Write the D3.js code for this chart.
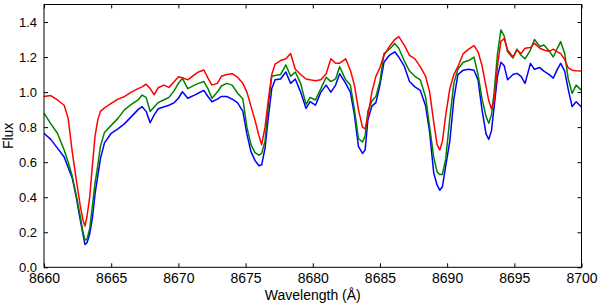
<!DOCTYPE html>
<html>
<head>
<meta charset="utf-8">
<script src="https://cdn.jsdelivr.net/npm/d3@7"></script>
<style>
  body { margin: 0; background: #fff; }
  .axis text { font-family: "Liberation Sans", Arial, sans-serif; font-size: 13px; fill: #000; }
  .x-axis text { font-size: 14px; }
  .axis line { stroke: #000; }
</style>
</head>
<body>
<div id="chart"></div>
<script>
(function() {
  var margin = { top: 4.5, left: 44, right: 18.5, bottom: 40.7 },
    width = 600 - margin.left - margin.right,
    height = 308 - margin.top - margin.bottom;

  // wavelength grid (Angstrom) shared by the three spectra
  var wavelength = [8660, 8660.5, 8661, 8661.5, 8661.8, 8662.1, 8662.4, 8662.7, 8662.9, 8663.05,
    8663.2, 8663.4, 8663.6, 8663.8, 8664.0, 8664.2, 8664.5, 8665, 8665.5, 8666,
    8666.5, 8667, 8667.3, 8667.6, 8667.9, 8668.2, 8668.5, 8668.9, 8669.3, 8669.7,
    8670.0, 8670.3, 8670.7, 8671.2, 8671.5, 8671.9, 8672.2, 8672.5, 8672.9, 8673.2,
    8673.6, 8674.0, 8674.4, 8674.8, 8675.1, 8675.4, 8675.7, 8676.0, 8676.2, 8676.45,
    8676.7, 8676.95, 8677.2, 8677.6, 8678.0, 8678.35, 8678.7, 8679.1, 8679.5, 8679.8,
    8680.2, 8680.6, 8681.0, 8681.35, 8681.7, 8682.0, 8682.45, 8682.8, 8683.1, 8683.4,
    8683.7, 8683.9, 8684.1, 8684.4, 8684.7, 8685.0, 8685.3, 8685.7, 8686.1, 8686.4,
    8686.8, 8687.2, 8687.6, 8688.0, 8688.4, 8688.7, 8689.0, 8689.25, 8689.45, 8689.65,
    8689.9, 8690.2, 8690.5, 8690.8, 8691.2, 8691.6, 8692.0, 8692.3, 8692.6, 8692.9,
    8693.1, 8693.3, 8693.5, 8693.75, 8694.0, 8694.25, 8694.5, 8694.9, 8695.2, 8695.5,
    8695.8, 8696.2, 8696.5, 8696.9, 8697.2, 8697.6, 8697.9, 8698.2, 8698.45, 8698.75,
    8699.0, 8699.3, 8699.6, 8700];

  var flux_blue = [0.765, 0.73, 0.68, 0.63, 0.57, 0.51, 0.40, 0.27, 0.19, 0.13,
    0.14, 0.19, 0.28, 0.42, 0.52, 0.62, 0.71, 0.765, 0.79, 0.82,
    0.86, 0.90, 0.917, 0.89, 0.825, 0.87, 0.905, 0.915, 0.925, 0.94,
    0.965, 1.002, 0.965, 0.983, 0.995, 1.01, 0.975, 0.945, 0.96, 0.975,
    0.975, 0.96, 0.94, 0.89, 0.76, 0.66, 0.61, 0.58, 0.585, 0.68,
    0.86, 1.02, 1.07, 1.075, 1.115, 1.05, 1.075, 1.0, 0.907, 0.945,
    0.925, 1.0, 1.04, 1.0, 1.04, 1.105, 1.05, 1.0, 0.87, 0.69,
    0.65, 0.67, 0.84, 0.92, 0.94, 1.04, 1.17, 1.21, 1.23, 1.20,
    1.15, 1.06, 1.03, 1.01, 0.92, 0.77, 0.54, 0.47, 0.44, 0.46,
    0.58, 0.72, 0.96, 1.10, 1.125, 1.13, 1.125, 1.07, 0.897, 0.76,
    0.73, 0.78, 0.917, 1.09, 1.17, 1.15, 1.07, 1.10, 1.107, 1.09,
    1.05, 1.164, 1.13, 1.14, 1.12, 1.10, 1.08, 1.13, 1.164, 1.12,
    1.02, 0.917, 0.945, 0.915];

  var flux_green = [0.88, 0.82, 0.765, 0.67, 0.60, 0.52, 0.41, 0.29, 0.20, 0.155,
    0.16, 0.22, 0.35, 0.48, 0.58, 0.69, 0.77, 0.81, 0.85, 0.90,
    0.93, 0.955, 0.983, 0.97, 0.89, 0.915, 0.94, 0.955, 0.97, 1.01,
    1.05, 1.078, 1.02, 1.04, 1.05, 1.06, 1.02, 0.965, 1.0, 1.035,
    1.05, 1.04, 0.995, 0.96, 0.80, 0.70, 0.655, 0.64, 0.65, 0.72,
    0.93, 1.09, 1.095, 1.10, 1.155, 1.09, 1.115, 1.05, 0.93, 0.97,
    0.955, 1.02, 1.085, 1.06, 1.075, 1.145, 1.07, 1.04, 0.90, 0.735,
    0.715, 0.75, 0.89, 0.95, 0.975, 1.06, 1.22, 1.245, 1.278, 1.25,
    1.18, 1.12, 1.09, 1.07, 0.97, 0.80, 0.63, 0.545, 0.53, 0.53,
    0.62, 0.85, 1.05, 1.13, 1.17, 1.18, 1.20, 1.10, 0.96, 0.86,
    0.822, 0.87, 1.0, 1.22, 1.355, 1.32, 1.23, 1.195, 1.245, 1.21,
    1.19, 1.24, 1.30, 1.26, 1.269, 1.235, 1.20, 1.25, 1.288, 1.22,
    1.08, 0.993, 1.04, 1.01];

  var flux_red = [0.975, 0.98, 0.955, 0.925, 0.85, 0.66, 0.50, 0.35, 0.27, 0.235,
    0.29, 0.40, 0.58, 0.75, 0.84, 0.89, 0.91, 0.935, 0.96, 0.975,
    1.00, 1.02, 1.03, 1.045, 1.02, 0.985, 1.025, 1.04, 1.027, 1.06,
    1.088, 1.082, 1.07, 1.10, 1.115, 1.126, 1.08, 1.04, 1.05, 1.09,
    1.10, 1.105, 1.085, 1.05, 1.0, 0.92, 0.84, 0.75, 0.70, 0.80,
    0.96, 1.10, 1.16, 1.18, 1.19, 1.22, 1.13, 1.10, 1.075, 1.07,
    1.065, 1.07, 1.105, 1.19, 1.165, 1.165, 1.19, 1.125, 1.04, 0.90,
    0.80, 0.79, 0.86, 1.0, 1.09, 1.14, 1.21, 1.26, 1.30, 1.317,
    1.27, 1.21, 1.19, 1.145, 1.09, 1.0, 0.83, 0.70, 0.67, 0.72,
    0.87, 1.02, 1.10, 1.145, 1.22, 1.245, 1.265, 1.23, 1.15, 1.03,
    0.95, 0.905, 0.95, 1.15, 1.29, 1.305, 1.24, 1.20, 1.24, 1.22,
    1.25, 1.255, 1.278, 1.25, 1.24, 1.232, 1.245, 1.23, 1.22, 1.185,
    1.14, 1.125, 1.122, 1.12];

  var x_ticks = [8660, 8665, 8670, 8675, 8680, 8685, 8690, 8695, 8700];
  var y_ticks = [0.0, 0.2, 0.4, 0.6, 0.8, 1.0, 1.2, 1.4];

  var svg = d3.select("#chart")
    .append("svg")
    .attr("width", 600)
    .attr("height", 308)
    .append("g")
    .attr("transform", "translate(" + margin.left + "," + margin.top + ")");

  var xPositionScale = d3.scaleLinear().domain([8660, 8700]).range([0, width]);
  var yPositionScale = d3.scaleLinear().domain([0, 1.5]).range([height, 0]);

  var series = [
    { name: "blue", color: "#0000ff", values: flux_blue },
    { name: "green", color: "#008000", values: flux_green },
    { name: "red", color: "#ff0000", values: flux_red }
  ];

  var line = d3.line()
    .x(function(d, i) { return xPositionScale(wavelength[i]) })
    .y(function(d) { return yPositionScale(d) });

  svg.selectAll(".spectrum")
    .data(series)
    .enter().append("path")
    .attr("class", "spectrum")
    .attr("fill", "none")
    .attr("stroke", function(d) { return d.color })
    .attr("stroke-width", 1.5)
    .attr("stroke-linejoin", "round")
    .attr("d", function(d) { return line(d.values) });

  // ticks point inwards on all four sides, like matplotlib classic
  var xAxis = d3.axisBottom(xPositionScale).tickValues(x_ticks)
    .tickFormat(d3.format("d")).tickSize(-4).tickPadding(6);
  svg.append("g")
    .attr("class", "axis x-axis")
    .attr("transform", "translate(0," + height + ")")
    .call(xAxis)
    .call(function(g) { g.select(".domain").remove() });

  svg.append("g")
    .attr("class", "axis")
    .call(d3.axisTop(xPositionScale).tickValues(x_ticks).tickSize(-4).tickFormat(""))
    .call(function(g) { g.select(".domain").remove() });

  var yAxis = d3.axisLeft(yPositionScale).tickValues(y_ticks)
    .tickFormat(d3.format(".1f")).tickSize(-4).tickPadding(7);
  svg.append("g")
    .attr("class", "axis y-axis")
    .call(yAxis)
    .call(function(g) { g.select(".domain").remove() });

  svg.append("g")
    .attr("class", "axis")
    .attr("transform", "translate(" + width + ",0)")
    .call(d3.axisRight(yPositionScale).tickValues(y_ticks).tickSize(-4).tickFormat(""))
    .call(function(g) { g.select(".domain").remove() });

  svg.append("rect")
    .attr("width", width)
    .attr("height", height)
    .attr("fill", "none")
    .attr("stroke", "#000")
    .attr("stroke-width", 1);

  svg.append("text")
    .attr("x", width / 2)
    .attr("y", height + 32.5)
    .attr("text-anchor", "middle")
    .style("font-family", "Liberation Sans, Arial, sans-serif")
    .style("font-size", "14px")
    .text("Wavelength (Å)");

  svg.append("text")
    .attr("transform", "translate(" + (-31) + "," + (height / 2) + ") rotate(-90)")
    .attr("text-anchor", "middle")
    .style("font-family", "Liberation Sans, Arial, sans-serif")
    .style("font-size", "14px")
    .text("Flux");
})();
</script>
</body>
</html>
